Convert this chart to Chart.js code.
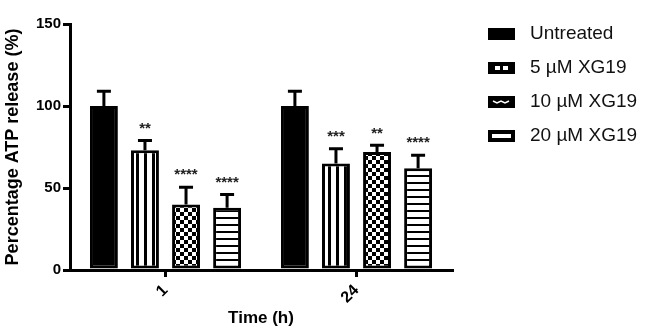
<!DOCTYPE html>
<html>
<head>
<meta charset="utf-8">
<script src="https://cdn.jsdelivr.net/npm/chart.js@4"></script>
<style>
  html, body { margin: 0; padding: 0; background: #fff; }
  #wrap { width: 650px; height: 330px; }
</style>
</head>
<body>
<div id="wrap"><canvas id="atpChart" width="650" height="330"></canvas></div>
<script>
// data
const categories = ['1', '24'];
const seriesLabels = ['Untreated', '5 \u00b5M XG19', '10 \u00b5M XG19', '20 \u00b5M XG19'];
const untreated = [100, 100];
const xg5 = [73, 65];
const xg10 = [40, 72];
const xg20 = [38, 62];
const untreatedErr = [9, 9];
const xg5Err = [6, 9];
const xg10Err = [10.5, 4];
const xg20Err = [8, 8];
const untreatedStars = ['', ''];
const xg5Stars = ['**', '***'];
const xg10Stars = ['****', '**'];
const xg20Stars = ['****', '****'];
const yTicks = [0, 50, 100, 150];

const FONT = '"Liberation Sans", Arial, sans-serif';

function makePattern(kind) {
    const c = document.createElement('canvas');
    const ctx = c.getContext('2d');
    if (kind === 'vert') {
        c.width = 8; c.height = 8;
        ctx.fillStyle = '#fff'; ctx.fillRect(0, 0, 8, 8);
        ctx.fillStyle = '#000'; ctx.fillRect(0, 0, 3, 8);
    } else if (kind === 'check') {
        c.width = 8; c.height = 8;
        ctx.fillStyle = '#fff'; ctx.fillRect(0, 0, 8, 8);
        ctx.fillStyle = '#000';
        ctx.fillRect(0, 0, 4, 4); ctx.fillRect(4, 4, 4, 4);
    } else {
        c.width = 8; c.height = 7;
        ctx.fillStyle = '#fff'; ctx.fillRect(0, 0, 8, 7);
        ctx.fillStyle = '#000'; ctx.fillRect(0, 0, 8, 2);
    }
    return ctx.createPattern(c, 'repeat');
}

const errors = [untreatedErr, xg5Err, xg10Err, xg20Err];
const stars = [untreatedStars, xg5Stars, xg10Stars, xg20Stars];

// error bars (upper only) and significance stars
const errorBarPlugin = {
    id: 'errorBars',
    afterDatasetsDraw(chart) {
        const ctx = chart.ctx;
        const y = chart.scales.y;
        chart.data.datasets.forEach((ds, i) => {
            const meta = chart.getDatasetMeta(i);
            meta.data.forEach((bar, j) => {
                const top = y.getPixelForValue(ds.data[j] + errors[i][j]);
                ctx.save();
                ctx.strokeStyle = '#000';
                ctx.lineWidth = 3;
                ctx.beginPath();
                ctx.moveTo(bar.x, bar.y);
                ctx.lineTo(bar.x, top);
                ctx.moveTo(bar.x - 7, top);
                ctx.lineTo(bar.x + 7, top);
                ctx.stroke();
                if (stars[i][j]) {
                    ctx.fillStyle = '#222';
                    ctx.font = 'bold 15px ' + FONT;
                    ctx.textAlign = 'center';
                    ctx.textBaseline = 'middle';
                    ctx.fillText(stars[i][j], bar.x, top - 12);
                }
                ctx.restore();
            });
        });
    }
};

// legend drawn on the right like the original figure
const legendPlugin = {
    id: 'sideLegend',
    afterDraw(chart) {
        const ctx = chart.ctx;
        const rows = [34, 68, 102, 136];
        const bx = 488, bw = 27, bh = 12;
        ctx.save();
        chart.data.datasets.forEach((ds, i) => {
            const cy = rows[i];
            const by = cy - bh / 2;
            ctx.fillStyle = '#000';
            ctx.fillRect(bx, by, bw, bh);
            ctx.fillStyle = '#fff';
            if (i === 1) {
                ctx.fillRect(bx + 7, cy - 2, 5, 4);
                ctx.fillRect(bx + 15, cy - 2, 5, 4);
            } else if (i === 2) {
                ctx.strokeStyle = '#fff';
                ctx.lineWidth = 1.5;
                ctx.beginPath();
                ctx.moveTo(bx + 5, cy - 1);
                ctx.lineTo(bx + 9, cy + 1);
                ctx.lineTo(bx + 13, cy - 1);
                ctx.lineTo(bx + 17, cy + 1);
                ctx.lineTo(bx + 21, cy - 1);
                ctx.stroke();
            } else if (i === 3) {
                ctx.fillRect(bx + 4, cy - 2, bw - 8, 4);
            }
            ctx.fillStyle = '#111';
            ctx.font = '19px ' + FONT;
            ctx.textAlign = 'left';
            ctx.textBaseline = 'middle';
            ctx.fillText(ds.label, 530, cy);
        });
        ctx.restore();
    }
};

const ctx = document.getElementById('atpChart').getContext('2d');
new Chart(ctx, {
    type: 'bar',
    data: {
        labels: categories,
        datasets: [
            { label: seriesLabels[0], data: untreated, backgroundColor: '#000' },
            { label: seriesLabels[1], data: xg5, backgroundColor: makePattern('vert') },
            { label: seriesLabels[2], data: xg10, backgroundColor: makePattern('check') },
            { label: seriesLabels[3], data: xg20, backgroundColor: makePattern('horiz') }
        ].map(d => Object.assign(d, {
            borderColor: '#000',
            borderWidth: 3,
            borderSkipped: false,
            categoryPercentage: 0.86,
            barPercentage: 0.68
        }))
    },
    options: {
        responsive: false,
        animation: false,
        layout: { padding: { top: 24, right: 198, left: 0, bottom: 0 } },
        plugins: {
            legend: { display: false },
            tooltip: { enabled: false }
        },
        scales: {
            x: {
                grid: {
                    display: true,
                    drawOnChartArea: false,
                    offset: false,
                    tickLength: 7,
                    lineWidth: 3,
                    color: '#000'
                },
                border: { display: true, width: 3, color: '#000' },
                ticks: {
                    color: '#000',
                    font: { family: FONT, size: 16, weight: 'bold' },
                    minRotation: 45,
                    maxRotation: 45,
                    padding: 4
                },
                title: {
                    display: true,
                    text: 'Time (h)',
                    color: '#000',
                    font: { family: FONT, size: 17, weight: 'bold' },
                    padding: { top: 0, bottom: 1 }
                },
                afterFit(scale) { scale.height = 60; }
            },
            y: {
                min: 0,
                max: 150,
                afterBuildTicks(scale) { scale.ticks = yTicks.map(v => ({ value: v })); },
                grid: {
                    display: true,
                    drawOnChartArea: false,
                    tickLength: 7,
                    lineWidth: 3,
                    color: '#000'
                },
                border: { display: true, width: 3, color: '#000' },
                ticks: {
                    color: '#000',
                    font: { family: FONT, size: 15, weight: 'bold' },
                    padding: 2
                },
                title: {
                    display: true,
                    text: 'Percentage ATP release (%)',
                    color: '#000',
                    font: { family: FONT, size: 18, weight: 'bold' },
                    padding: { top: 2, bottom: 4 }
                },
                afterFit(scale) { scale.width = 70; }
            }
        }
    },
    plugins: [errorBarPlugin, legendPlugin]
});
</script>
</body>
</html>
